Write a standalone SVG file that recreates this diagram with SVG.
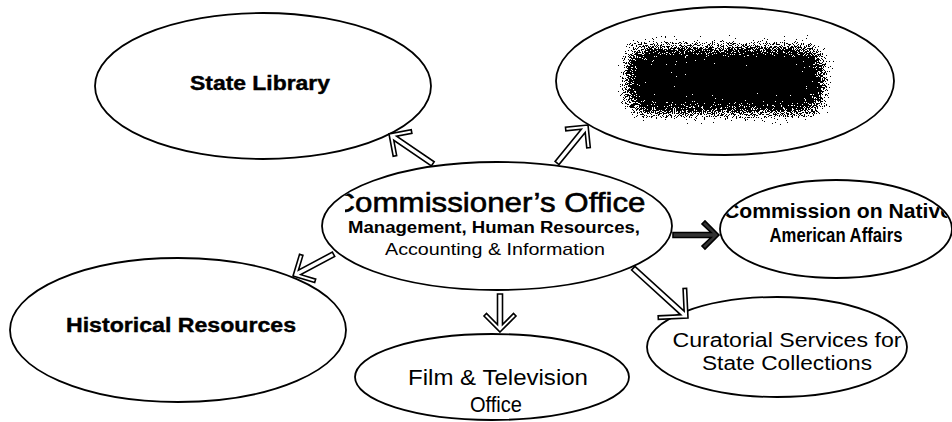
<svg xmlns="http://www.w3.org/2000/svg" width="952" height="422" viewBox="0 0 952 422">
<style>
.node{fill:#fff;stroke:#000;stroke-width:1.8}
.t{font-family:"Liberation Sans",Arial,sans-serif;fill:#000;text-anchor:middle}
.b{font-weight:bold}
.arr{fill:#fff;stroke:#000;stroke-width:1.6;stroke-linejoin:miter}
.arrd{fill:#333;stroke:#000;stroke-width:1.6}
</style>
<defs>
<clipPath id="cC"><ellipse cx="497" cy="226" rx="174" ry="63"/></clipPath>
<clipPath id="cC1"><rect x="345" y="150" width="330" height="80"/></clipPath>
<clipPath id="cN"><ellipse cx="836" cy="229" rx="115" ry="48"/></clipPath>
<filter id="speck" x="-40%" y="-70%" width="180%" height="240%">
<feGaussianBlur in="SourceAlpha" stdDeviation="14" result="b"/>
<feTurbulence type="fractalNoise" baseFrequency="1.1" numOctaves="2" seed="5" result="n"/>
<feColorMatrix in="n" type="matrix" values="0 0 0 0 0 0 0 0 0 0 0 0 0 0 0 1 0 0 0 0" result="na"/>
<feComposite in="b" in2="na" operator="arithmetic" k2="1.25" k3="1.4" k4="-1.0" result="c"/>
<feComponentTransfer in="c" result="th"><feFuncA type="discrete" tableValues="0 1"/></feComponentTransfer>
<feFlood flood-color="#000"/>
<feComposite in2="th" operator="in"/>
</filter>
</defs>

<g id="state-library">
<ellipse class="node" cx="263" cy="86" rx="168" ry="73"/>
<text class="t b" x="260" y="90" font-size="20" textLength="140" lengthAdjust="spacingAndGlyphs" stroke="#000" stroke-width="0.4">State Library</text>
</g>

<g id="redacted">
<ellipse class="node" cx="725" cy="81" rx="169" ry="74"/>
<rect x="622" y="42" width="206" height="76" fill="#000" filter="url(#speck)"/>
</g>

<g id="commissioner">
<ellipse class="node" cx="497" cy="226" rx="175" ry="64"/>
<g clip-path="url(#cC)">
<g clip-path="url(#cC1)">
<text class="t" x="489" y="212" font-size="28" textLength="313" lengthAdjust="spacingAndGlyphs" stroke="#000" stroke-width="0.6">Commissioner’s Office</text>
</g>
<text class="t b" x="494" y="233" font-size="16" textLength="292" lengthAdjust="spacingAndGlyphs">Management, Human Resources,</text>
<text class="t" x="495" y="255" font-size="17" textLength="220" lengthAdjust="spacingAndGlyphs">Accounting &amp; Information</text>
</g>
</g>

<g id="native">
<ellipse class="node" cx="836" cy="229" rx="116" ry="49"/>
<g clip-path="url(#cN)">
<text class="t b" x="838" y="218" font-size="20" textLength="228" lengthAdjust="spacingAndGlyphs">Commission on Native</text>
<text class="t b" x="836" y="242" font-size="20" textLength="133" lengthAdjust="spacingAndGlyphs">American Affairs</text>
</g>
</g>

<g id="curatorial">
<ellipse class="node" cx="777" cy="347" rx="130" ry="50"/>
<text class="t" x="787" y="347" font-size="20" textLength="229" lengthAdjust="spacingAndGlyphs">Curatorial Services for</text>
<text class="t" x="787" y="370" font-size="20" textLength="170" lengthAdjust="spacingAndGlyphs">State Collections</text>
</g>

<g id="film">
<ellipse class="node" cx="492" cy="377" rx="137" ry="43"/>
<text class="t" x="498" y="385" font-size="22" textLength="180" lengthAdjust="spacingAndGlyphs">Film &amp; Television</text>
<text class="t" x="496" y="412" font-size="22" textLength="52" lengthAdjust="spacingAndGlyphs">Office</text>
</g>

<g id="historical">
<ellipse class="node" cx="178" cy="330" rx="168" ry="72"/>
<text class="t b" x="181" y="332" font-size="20" textLength="230" lengthAdjust="spacingAndGlyphs" stroke="#000" stroke-width="0.4">Historical Resources</text>
</g>

<g id="connectors">
<path class="arr" transform="translate(389,134) rotate(214.3)" d="M0,0 L-16,-16 L-18.5,-13.5 L-7.5,-2.5 L-53,-2.5 L-53,2.5 L-7.5,2.5 L-18.5,13.5 L-16,16 Z"/>
<path class="arr" transform="translate(588,125) rotate(-50.8)" d="M0,0 L-16,-16 L-18.5,-13.5 L-7.5,-2.5 L-49,-2.5 L-49,2.5 L-7.5,2.5 L-18.5,13.5 L-16,16 Z"/>
<path class="arr" transform="translate(293,276) rotate(151.8)" d="M0,0 L-16,-16 L-18.5,-13.5 L-7.5,-2.5 L-46,-2.5 L-46,2.5 L-7.5,2.5 L-18.5,13.5 L-16,16 Z"/>
<path class="arr" transform="translate(500,332) rotate(90)" d="M0,0 L-16,-16 L-18.5,-13.5 L-7.5,-2.5 L-38,-2.5 L-38,2.5 L-7.5,2.5 L-18.5,13.5 L-16,16 Z"/>
<path class="arrd" transform="translate(719,235) rotate(0)" d="M0,0 L-14,-14 L-17,-11 L-8,-2.5 L-46,-2.5 L-46,2.5 L-8,2.5 L-17,11 L-14,14 Z"/>
<path class="arr" transform="translate(688,318) rotate(42.3)" d="M0,0 L-21,-21 L-23.5,-18.5 L-7.5,-2.5 L-74,-2.5 L-74,2.5 L-7.5,2.5 L-23.5,18.5 L-21,21 Z"/>
</g>
</svg>
